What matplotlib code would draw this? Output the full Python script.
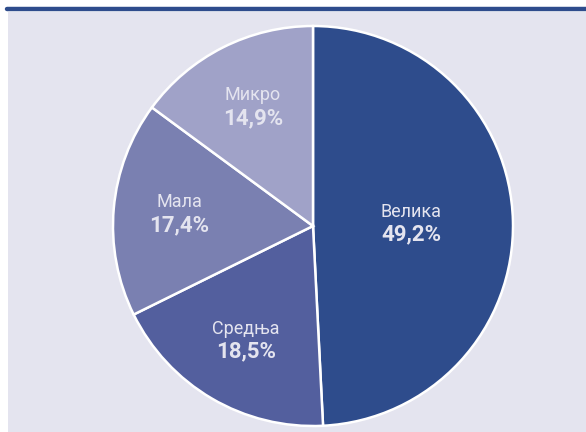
import numpy as np
from matplotlib import pyplot as plt
from matplotlib.patches import Rectangle
from matplotlib.lines import Line2D

# data
categories = ["Велика", "Средња", "Мала", "Микро"]
shares = [49.2, 18.5, 17.4, 14.9]
colors = ["#2E4C8C", "#535F9E", "#7A80B1", "#A0A2C8"]
label_dist = [0.49, 0.665, 0.67, 0.665]

bg = "#E4E4EF"
dark = "#2E4C8C"
font = "Roboto"

fig = plt.figure(figsize=(5.86, 4.32), dpi=100)
fig.patch.set_facecolor("white")

# panel background + top rule
fig.patches.append(Rectangle((8 / 586, 0), 578 / 586, 420 / 432,
                             transform=fig.transFigure, facecolor=bg,
                             edgecolor="none", zorder=-5))
fig.lines.append(Line2D([7 / 586, 1], [1 - 9 / 432, 1 - 9 / 432],
                        transform=fig.transFigure, color=dark,
                        linewidth=3.2, solid_capstyle="round", zorder=-4))

ax = fig.add_axes([113 / 586, 6 / 432, 400 / 586, 400 / 432])
ax.set_facecolor("none")

wedges, _ = ax.pie(
    shares,
    colors=colors,
    startangle=90,
    counterclock=False,
    radius=1,
    wedgeprops=dict(edgecolor="white", linewidth=1.8),
)
ax.set_xlim(-1, 1)
ax.set_ylim(-1, 1)
ax.set_aspect("equal")

for w, name, val, d in zip(wedges, categories, shares, label_dist):
    mid = np.deg2rad((w.theta1 + w.theta2) / 2)
    x, y = d * np.cos(mid), d * np.sin(mid)
    ax.text(x, y + 0.06, name, ha="center", va="center", fontsize=13,
            color="#E4E4EF", family=font)
    ax.text(x, y - 0.055, f"{val:.1f}%".replace(".", ","), ha="center",
            va="center", fontsize=16, fontweight="bold", color="#E4E4EF",
            family=font)

fig.savefig("out.png", dpi=100)
